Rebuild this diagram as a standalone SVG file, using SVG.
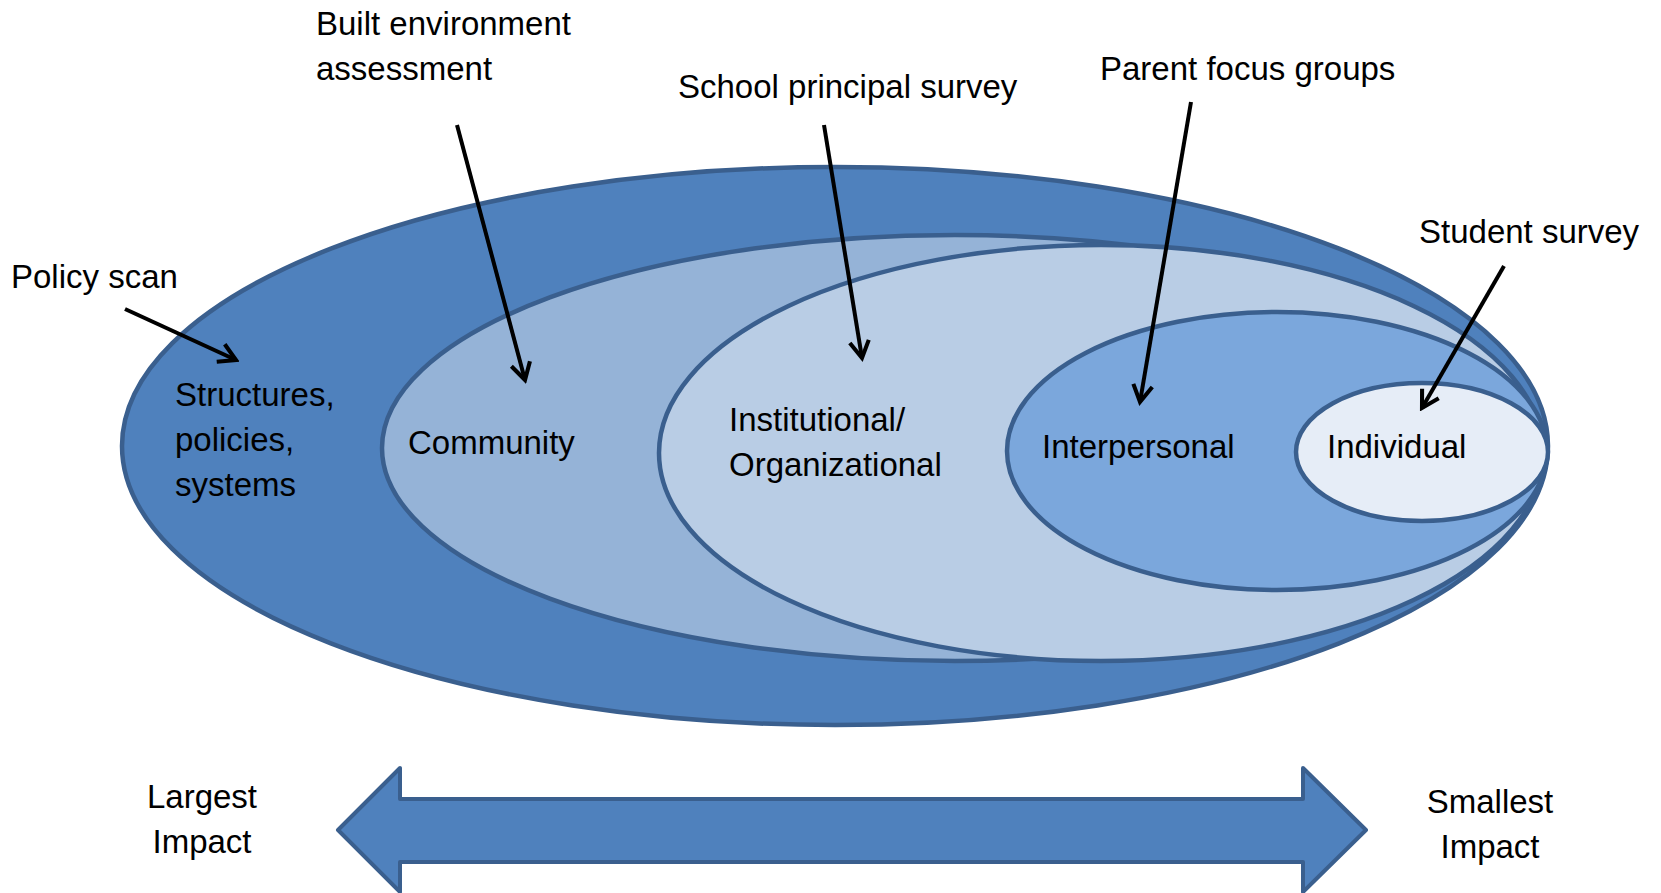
<svg xmlns="http://www.w3.org/2000/svg" width="1661" height="893" viewBox="0 0 1661 893">
<defs>
<style>
.ell{stroke:#3A5F8E;stroke-width:4.5}
.t{font-family:"Liberation Sans",Arial,sans-serif;font-size:33px;fill:#000}
.c{stroke:#000;stroke-width:4;fill:none}
</style>
<marker id="ah" viewBox="0 0 20 20" refX="17" refY="10" markerWidth="24" markerHeight="24" markerUnits="userSpaceOnUse" orient="auto">
<path d="M3,2 L17,10 L3,18" fill="none" stroke="#000" stroke-width="3.4"/>
</marker>
</defs>
<rect width="1661" height="893" fill="#fff"/>
<g id="structures">
<ellipse class="ell" cx="835" cy="446" rx="713" ry="279" fill="#4F81BD"/>
<text class="t" x="175" y="406">Structures,</text>
<text class="t" x="175" y="451">policies,</text>
<text class="t" x="175" y="496">systems</text>
</g>
<g id="community">
<ellipse class="ell" cx="955" cy="448" rx="573" ry="213" fill="#95B3D7"/>
<text class="t" x="408" y="454">Community</text>
</g>
<g id="institutional">
<ellipse class="ell" cx="1101" cy="453" rx="442" ry="208" fill="#B9CDE5"/>
<text class="t" x="729" y="431">Institutional/</text>
<text class="t" x="729" y="476">Organizational</text>
</g>
<g id="interpersonal">
<ellipse class="ell" cx="1277" cy="451" rx="270" ry="139" fill="#7BA7DC"/>
<text class="t" x="1042" y="458">Interpersonal</text>
</g>
<g id="individual">
<ellipse class="ell" cx="1422" cy="452" rx="126" ry="69" fill="#E6EDF7"/>
<text class="t" x="1327" y="458">Individual</text>
</g>
<g id="labels">
<text class="t" x="11" y="288">Policy scan</text>
<text class="t" x="316" y="35">Built environment</text>
<text class="t" x="316" y="80">assessment</text>
<text class="t" x="678" y="98">School principal survey</text>
<text class="t" x="1100" y="80">Parent focus groups</text>
<text class="t" x="1419" y="243">Student survey</text>
</g>
<g id="connectors">
<line class="c" x1="125" y1="309" x2="236" y2="360" marker-end="url(#ah)"/>
<line class="c" x1="457" y1="125" x2="525" y2="380" marker-end="url(#ah)"/>
<line class="c" x1="824" y1="125" x2="862" y2="358" marker-end="url(#ah)"/>
<line class="c" x1="1191" y1="102" x2="1140" y2="402" marker-end="url(#ah)"/>
<line class="c" x1="1504" y1="266" x2="1422" y2="408" marker-end="url(#ah)"/>
</g>
<g id="impact-arrow">
<polygon points="338,830 400,768 400,799 1303,799 1303,768 1366,830 1303,892 1303,862 400,862 400,892" fill="#4F81BD" stroke="#3A5F8E" stroke-width="4" stroke-linejoin="round"/>
<text class="t" x="202" y="808" text-anchor="middle">Largest</text>
<text class="t" x="202" y="853" text-anchor="middle">Impact</text>
<text class="t" x="1490" y="813" text-anchor="middle">Smallest</text>
<text class="t" x="1490" y="858" text-anchor="middle">Impact</text>
</g>
</svg>
